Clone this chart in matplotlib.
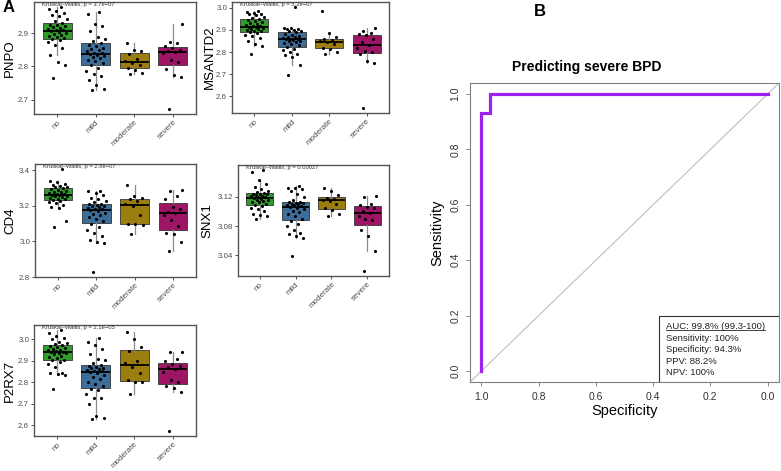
import numpy as np
import matplotlib
matplotlib.use('Agg')
import matplotlib.pyplot as plt
from matplotlib.patches import Rectangle
from matplotlib.lines import Line2D

plt.rcParams['font.family'] = ['Liberation Sans', 'DejaVu Sans']

# ---- data: panel A ----
groups = ['no', 'mild', 'moderate', 'severe']
group_colors = ['#2F9C2B', '#3C6E99', '#9B7D10', '#9E1565']

genes = ['PNPO', 'MSANTD2', 'CD4', 'SNX1', 'P2RX7']
kw_labels = ['Kruskal\u2013Wallis, p = 3.7e\u221207',
             'Kruskal\u2013Wallis, p = 5.2e\u221207',
             'Kruskal\u2013Wallis, p = 2.8e\u221207',
             'Kruskal\u2013Wallis, p = 0.00027',
             'Kruskal\u2013Wallis, p = 2.1e\u221205']
gene_ticks = [[2.7, 2.8, 2.9],
              [2.6, 2.7, 2.8, 2.9, 3.0],
              [2.8, 3.0, 3.2, 3.4],
              [3.04, 3.08, 3.12],
              [2.6, 2.7, 2.8, 2.9, 3.0]]
gene_tick_labels = [['2.7', '2.8', '2.9'],
                    ['2.6', '2.7', '2.8', '2.9', '3.0'],
                    ['2.8', '3.0', '3.2', '3.4'],
                    ['3.04', '3.08', '3.12'],
                    ['2.6', '2.7', '2.8', '2.9', '3.0']]

pnpo_no = [2.765, 2.803, 2.812, 2.834, 2.855, 2.865, 2.872, 2.878, 2.882, 2.886, 2.889, 2.892,
           2.895, 2.898, 2.901, 2.904, 2.906, 2.908, 2.91, 2.913, 2.915, 2.918, 2.92, 2.923,
           2.925, 2.93, 2.936, 2.942, 2.95, 2.955, 2.96, 2.967, 2.972, 2.978]
pnpo_mild = [2.728, 2.733, 2.745, 2.758, 2.772, 2.777, 2.785, 2.796, 2.803, 2.81, 2.815, 2.82,
             2.825, 2.828, 2.832, 2.835, 2.837, 2.839, 2.841, 2.845, 2.848, 2.852, 2.856, 2.86,
             2.865, 2.87, 2.875, 2.882, 2.887, 2.905, 2.922, 2.928, 2.958, 2.962]
pnpo_moderate = [2.778, 2.781, 2.79, 2.795, 2.803, 2.81, 2.816, 2.822, 2.838, 2.845, 2.85, 2.871]
pnpo_severe = [2.672, 2.767, 2.775, 2.792, 2.814, 2.82, 2.84, 2.844, 2.847, 2.85, 2.855, 2.86,
               2.87, 2.872, 2.926]

msantd2_no = [2.79, 2.826, 2.835, 2.85, 2.862, 2.872, 2.878, 2.884, 2.889, 2.893, 2.896, 2.9,
              2.903, 2.906, 2.909, 2.912, 2.914, 2.916, 2.919, 2.922, 2.926, 2.93, 2.935, 2.94,
              2.945, 2.95, 2.955, 2.96, 2.965, 2.97, 2.973, 2.977, 2.981, 2.985]
msantd2_mild = [2.697, 2.742, 2.778, 2.785, 2.792, 2.8, 2.808, 2.815, 2.822, 2.83, 2.835, 2.84,
                2.844, 2.848, 2.851, 2.854, 2.857, 2.859, 2.861, 2.864, 2.867, 2.87, 2.874, 2.878,
                2.883, 2.89, 2.893, 2.896, 2.899, 2.902, 2.905, 2.908, 2.91, 3.003]
msantd2_moderate = [2.79, 2.8, 2.812, 2.818, 2.835, 2.845, 2.849, 2.855, 2.858, 2.867, 2.885, 2.985]
msantd2_severe = [2.548, 2.752, 2.76, 2.79, 2.8, 2.805, 2.82, 2.834, 2.845, 2.86, 2.875, 2.88,
                  2.885, 2.895, 2.907]

cd4_no = [3.08, 3.115, 3.187, 3.195, 3.205, 3.215, 3.222, 3.228, 3.232, 3.236, 3.24, 3.244,
          3.248, 3.252, 3.255, 3.258, 3.261, 3.263, 3.266, 3.27, 3.274, 3.278, 3.283, 3.288,
          3.293, 3.298, 3.302, 3.306, 3.31, 3.315, 3.322, 3.33, 3.336, 3.405]
cd4_mild = [2.83, 2.99, 2.998, 3.005, 3.03, 3.045, 3.065, 3.08, 3.1, 3.112, 3.125, 3.135,
            3.145, 3.152, 3.16, 3.168, 3.175, 3.18, 3.184, 3.188, 3.192, 3.196, 3.2, 3.204,
            3.207, 3.212, 3.218, 3.225, 3.235, 3.245, 3.26, 3.27, 3.28, 3.284]
cd4_moderate = [3.04, 3.09, 3.098, 3.1, 3.15, 3.2, 3.212, 3.225, 3.235, 3.245, 3.255, 3.318]
cd4_severe = [2.945, 2.998, 3.04, 3.045, 3.085, 3.12, 3.15, 3.159, 3.165, 3.18, 3.195, 3.235,
              3.255, 3.28, 3.29]

snx1_no = [3.09, 3.093, 3.095, 3.097, 3.1, 3.103, 3.105, 3.107, 3.108, 3.11, 3.112, 3.113,
           3.114, 3.115, 3.116, 3.117, 3.118, 3.119, 3.12, 3.121, 3.121, 3.122, 3.123, 3.123,
           3.124, 3.125, 3.126, 3.128, 3.13, 3.133, 3.137, 3.143, 3.153, 3.156]
snx1_mild = [3.039, 3.064, 3.066, 3.069, 3.07, 3.075, 3.08, 3.083, 3.087, 3.09, 3.093, 3.096,
             3.099, 3.101, 3.103, 3.104, 3.106, 3.107, 3.108, 3.109, 3.11, 3.11, 3.111, 3.111,
             3.112, 3.113, 3.116, 3.12, 3.124, 3.127, 3.13, 3.131, 3.132, 3.134]
snx1_moderate = [3.094, 3.097, 3.102, 3.104, 3.11, 3.114, 3.116, 3.117, 3.118, 3.122, 3.128, 3.132]
snx1_severe = [3.019, 3.046, 3.066, 3.074, 3.088, 3.09, 3.094, 3.098, 3.1, 3.104, 3.106, 3.108,
               3.11, 3.12, 3.121]

p2rx7_no = [2.77, 2.833, 2.838, 2.842, 2.845, 2.87, 2.885, 2.895, 2.902, 2.906, 2.912, 2.918,
            2.924, 2.93, 2.935, 2.938, 2.941, 2.943, 2.946, 2.95, 2.953, 2.957, 2.961, 2.965,
            2.97, 2.975, 2.98, 2.985, 2.99, 3.0, 3.005, 3.015, 3.03, 3.044]
p2rx7_mild = [2.63, 2.635, 2.645, 2.7, 2.725, 2.728, 2.745, 2.765, 2.77, 2.785, 2.79, 2.8,
              2.815, 2.825, 2.835, 2.842, 2.848, 2.852, 2.855, 2.858, 2.862, 2.865, 2.868, 2.872,
              2.875, 2.88, 2.89, 2.905, 2.91, 2.93, 2.955, 2.975, 2.99, 3.009]
p2rx7_moderate = [2.745, 2.8, 2.802, 2.81, 2.845, 2.87, 2.89, 2.9, 2.945, 2.965, 3.0, 3.036]
p2rx7_severe = [2.573, 2.755, 2.775, 2.785, 2.8, 2.81, 2.85, 2.864, 2.87, 2.875, 2.885, 2.9,
                2.91, 2.94, 2.942]

gene_data = [
    [pnpo_no, pnpo_mild, pnpo_moderate, pnpo_severe],
    [msantd2_no, msantd2_mild, msantd2_moderate, msantd2_severe],
    [cd4_no, cd4_mild, cd4_moderate, cd4_severe],
    [snx1_no, snx1_mild, snx1_moderate, snx1_severe],
    [p2rx7_no, p2rx7_mild, p2rx7_moderate, p2rx7_severe],
]

# ---- data: panel B (ROC) ----
roc_specificity = [1.0, 1.0, 0.971, 0.971, 0.0]
roc_sensitivity = [0.0, 0.933, 0.933, 1.0, 1.0]
roc_stats = ['AUC: 99.8% (99.3-100)', 'Sensitivity: 100%', 'Specificity: 94.3%',
             'PPV: 88.2%', 'NPV: 100%']

W, H = 781, 471
fig = plt.figure(figsize=(W / 100, H / 100), dpi=100)
fig.patch.set_facecolor('white')


def px_axes(l, t, r, b):
    return fig.add_axes([l / W, 1 - b / H, (r - l) / W, (b - t) / H])


# pixel boxes (left, top, right, bottom) for the five gene panels
gene_boxes = [(34, 2, 196, 114), (232, 2, 389, 113), (35, 164, 196, 277),
              (238, 165, 389, 276), (34, 325, 196, 436)]
# pixel gap from axes left edge to the right side of the rotated y label
label_gaps = [18, 16, 19, 25, 18]


def draw_gene(ax, data, gene, kw, ticks, tick_labels, gap):
    pos = np.arange(1, len(groups) + 1)
    bp = ax.boxplot(data, positions=pos, widths=0.75, patch_artist=True, showfliers=False,
                    whis=1.5,
                    boxprops=dict(edgecolor='#333333', linewidth=0.6),
                    whiskerprops=dict(color='#8C8C8C', linewidth=0.9),
                    capprops=dict(linewidth=0),
                    medianprops=dict(color='black', linewidth=1.3))
    for patch, c in zip(bp['boxes'], group_colors):
        patch.set_facecolor(c)
    # jittered points (deterministic offsets)
    for p, vals in zip(pos, data):
        n = len(vals)
        offs = ((np.arange(n) * 0.6180339887 + 0.3) % 1 - 0.5) * 0.5
        ax.scatter(p + offs, vals, s=5, color='black', zorder=3, linewidths=0)
    allv = np.concatenate(data)
    lo, hi = allv.min(), allv.max()
    pad = 0.05 * (hi - lo)
    ax.set_ylim(lo - pad, hi + pad)
    ax.set_xlim(0.4, 4.6)
    ax.set_yticks(ticks)
    ax.set_yticklabels(tick_labels, fontsize=5.7, color='#4D4D4D')
    ax.set_xticks(pos)
    ax.set_xticklabels(groups, rotation=45, ha='right', va='top', fontsize=5.8,
                       color='#4D4D4D', rotation_mode='anchor')
    ax.tick_params(axis='both', length=2, width=0.6, color='#333333', pad=1.5)
    ax.set_ylabel(gene, fontsize=9.5)
    wpx = ax.get_position().width * W
    ax.yaxis.set_label_coords(-gap / wpx, 0.5)
    for s in ax.spines.values():
        s.set_color('#555555')
        s.set_linewidth(1.0)
    ax.text(0.62, hi + pad, kw, fontsize=4.2, color='#333333', va='top', ha='left')


for box, data, gene, kw, ticks, tl, gap in zip(gene_boxes, gene_data, genes, kw_labels,
                                               gene_ticks, gene_tick_labels, label_gaps):
    ax = px_axes(*box)
    draw_gene(ax, [np.array(d) for d in data], gene, kw, ticks, tl, gap)

# ---- panel B ----
axr = px_axes(470, 83, 779, 382)
axr.set_xlim(1.04, -0.04)
axr.set_ylim(-0.04, 1.04)
axr.axline((1.0, 0.0), (0.0, 1.0), color='#BEBEBE', linewidth=0.8, zorder=1)
axr.plot(roc_specificity, roc_sensitivity, color='#A020F0', linewidth=2.3, zorder=3,
         solid_joinstyle='miter')
tk = [0.0, 0.2, 0.4, 0.6, 0.8, 1.0]
axr.set_xticks(tk)
axr.set_xticklabels([f'{t:.1f}' for t in tk], fontsize=7.5, color='#333333')
axr.set_yticks(tk)
axr.set_yticklabels([f'{t:.1f}' for t in tk], fontsize=7.5, color='#333333', rotation=90,
                    va='center')
axr.tick_params(axis='both', length=3, width=0.6, color='#777777', pad=4)
axr.set_xlabel('Specificity', fontsize=10.5, labelpad=2)
axr.set_ylabel('Sensitivity', fontsize=10.5, labelpad=4)
for s in axr.spines.values():
    s.set_color('#808080')
    s.set_linewidth(0.8)
fig.text(587 / W, 1 - 67 / H, 'Predicting severe BPD', fontsize=10, fontweight='bold',
         ha='center', va='center')

# stats box
axr.add_patch(Rectangle((0.612, 0.0), 0.388, 0.221, transform=axr.transAxes,
                        facecolor='white', edgecolor='#333333', linewidth=0.8, zorder=4))
line_y = [0.187, 0.147, 0.110, 0.070, 0.033]
stat_texts = []
for txt, yy in zip(roc_stats, line_y):
    stat_texts.append(axr.text(0.634, yy, txt, transform=axr.transAxes, fontsize=6.8,
                               color='#222222', va='center', ha='left', zorder=5))

# panel letters
fig.text(9 / W, 1 - 8 / H, 'A', fontsize=12, fontweight='bold', ha='center', va='center')
fig.text(540 / W, 1 - 12 / H, 'B', fontsize=12, fontweight='bold', ha='center', va='center')

# underline the AUC line
fig.canvas.draw()
bb = stat_texts[0].get_window_extent()
inv = fig.transFigure.inverted()
(x0, y0), (x1, _) = inv.transform([(bb.x0, bb.y0 + 0.5), (bb.x1, bb.y0)])
fig.add_artist(Line2D([x0, x1], [y0, y0], transform=fig.transFigure, color='#222222',
                      linewidth=0.6))

fig.savefig('out.png', dpi=100)
